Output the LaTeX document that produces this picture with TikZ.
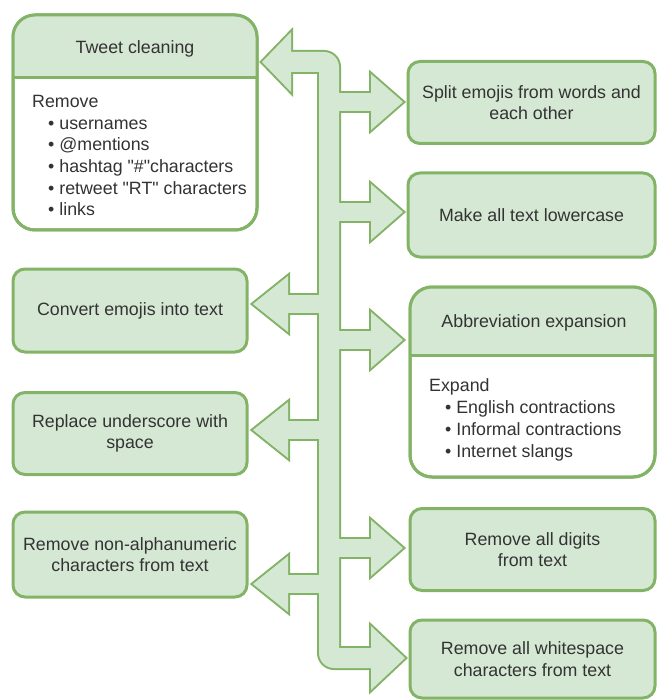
\documentclass[tikz,border=0pt]{standalone}
\usepackage{fontspec}
\setmainfont{Liberation Sans}
\definecolor{gfill}{HTML}{D5E8D4}
\definecolor{gline}{HTML}{82B366}
\definecolor{txt}{HTML}{333333}
\newcommand\arrowshapes[1]{%
  \path[#1] (291,52) -- (324,52) arc[start angle=270,end angle=360,radius=15] -- (339,648) -- (371,648) -- (371,668) -- (334,668) arc[start angle=90,end angle=180,radius=15] -- (319,72) -- (291,72) -- cycle;
  \path[#1] (291,32) -- (262,62) -- (291,92) -- cycle;
  \foreach \c in {102,212,340,548}{
    \path[#1] (335,\c-9) rectangle (371,\c+9);
    \path[#1] (371,\c-28) -- (403,\c) -- (371,\c+28) -- cycle;}
  \path[#1] (371,626) -- (405,658) -- (371,690) -- cycle;
  \foreach \c in {304,430,584}{
    \path[#1] (288,\c-9) rectangle (323,\c+9);
    \path[#1] (288,\c-28) -- (253,\c) -- (288,\c+28) -- cycle;}
}
\begin{document}
\begin{tikzpicture}[x=1pt,y=-1pt,
  font=\fontsize{17.8}{21.7}\selectfont,
  box/.style={draw=gline, fill=gfill, line width=3pt, rounded corners=12pt,
    text=txt, align=center, inner sep=0pt, minimum width=#1},
  box/.default=247pt,
  panel/.style={draw=gline, line width=3pt, rounded corners=22pt, inner sep=0pt},
  lbl/.style={text=txt, inner sep=0pt},
  body/.style={text=txt, inner sep=0pt, anchor=base west}]
\useasboundingbox (0,0) rectangle (657,700);

% block arrows (union outline)
\arrowshapes{draw=gline, line width=4pt, line join=miter}
\arrowshapes{fill=gfill}

% right column simple boxes
\node[box, minimum height=82pt] (split) at (531.5,102.5) {Split emojis from words and\\each other};
\node[box, minimum height=84pt] (lower) at (531.5,215) {Make all text lowercase};
\node[box=245pt, minimum height=82pt] (digits) at (532.5,549.5) {Remove all digits\\from text};
\node[box=245pt, minimum height=78pt] (white) at (532.5,659) {Remove all whitespace\\characters from text};

% left column simple boxes
\node[box=234pt, minimum height=83pt] (convert) at (130,310.5) {Convert emojis into text};
\node[box=234pt, minimum height=82pt] (replace) at (130,433.5) {Replace underscore with\\space};
\node[box=234pt, minimum height=85pt] (nonalpha) at (130,554.5) {Remove non-alphanumeric\\characters from text};

% Tweet cleaning panel
\node[panel, fill=white, minimum width=244pt, minimum height=215pt] (tweet) at (135,122.5) {};
\begin{scope}
  \clip[rounded corners=22pt] (13,15) rectangle (257,230);
  \fill[gfill] (13,15) rectangle (257,78);
\end{scope}
\draw[gline, line width=3pt] (13,78) -- (257,78);
\draw[gline, line width=3pt, rounded corners=22pt] (13,15) rectangle (257,230);
\node[lbl] (tweethead) at (135,49) {Tweet cleaning};
\node[body] (t0) at (32,107.5) {Remove};
\node[body] (t1) at (48,129.2) {• usernames};
\node[body] (t2) at (48,150.9) {• @mentions};
\node[body] (t3) at (48,172.6) {• hashtag \textquotedbl\#\textquotedbl characters};
\node[body] (t4) at (48,194.3) {• retweet \textquotedbl RT\textquotedbl{} characters};
\node[body] (t5) at (48,216) {• links};

% Abbreviation expansion panel
\node[panel, fill=white, minimum width=245pt, minimum height=190pt] (abbr) at (532.5,382) {};
\begin{scope}
  \clip[rounded corners=22pt] (410,287) rectangle (655,477);
  \fill[gfill] (410,287) rectangle (655,355);
\end{scope}
\draw[gline, line width=3pt] (410,355) -- (655,355);
\draw[gline, line width=3pt, rounded corners=22pt] (410,287) rectangle (655,477);
\node[lbl] (abbrhead) at (534,323) {Abbreviation expansion};
\node[body] (a0) at (429,391.5) {Expand};
\node[body] (a1) at (445,413.3) {• English contractions};
\node[body] (a2) at (445,435) {• Informal contractions};
\node[body] (a3) at (445,457) {• Internet slangs};
\end{tikzpicture}
\end{document}
